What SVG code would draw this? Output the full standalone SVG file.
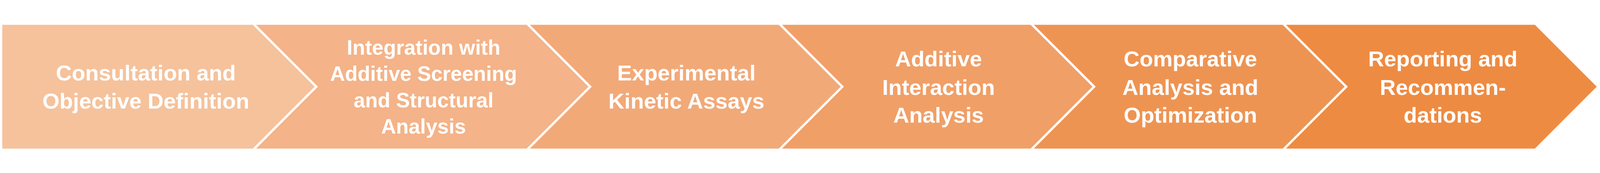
<svg xmlns="http://www.w3.org/2000/svg" width="4937" height="443" viewBox="0 0 4937 443">
<style>
svg{width:100vw;height:100vh}
.t{font-family:"Liberation Sans",Arial,sans-serif;font-weight:bold;fill:#FFFFFF;text-anchor:middle;font-size:68px}
.t2{font-size:63.7px}
</style>
<rect width="4937" height="443" fill="#FFFFFF"/>
<g id="step1">
<polygon points="7,31 780,31 971,222 780,413 7,413" fill="#F5C29C"/>
<text class="t" x="450" y="203">Consultation and</text>
<text class="t" x="450" y="290">Objective Definition</text>
</g>
<g id="step2">
<polygon points="790,31 1625,31 1816,222 1625,413 790,413 981,222" fill="#F4B388"/>
<text class="t t2" x="1307" y="123">Integration with</text>
<text class="t t2" x="1307" y="204">Additive Screening</text>
<text class="t t2" x="1307" y="286">and Structural</text>
<text class="t t2" x="1307" y="367">Analysis</text>
</g>
<g id="step3">
<polygon points="1635,31 2403,31 2594,222 2403,413 1635,413 1826,222" fill="#F2A978"/>
<text class="t" x="2118" y="203">Experimental</text>
<text class="t" x="2118" y="290">Kinetic Assays</text>
</g>
<g id="step4">
<polygon points="2413,31 3180,31 3371,222 3180,413 2413,413 2604,222" fill="#F09F67"/>
<text class="t" x="2896" y="159">Additive</text>
<text class="t" x="2896" y="247">Interaction</text>
<text class="t" x="2896" y="333">Analysis</text>
</g>
<g id="step5">
<polygon points="3190,31 3958,31 4149,222 3958,413 3190,413 3381,222" fill="#EE9453"/>
<text class="t" x="3673" y="159">Comparative</text>
<text class="t" x="3673" y="247">Analysis and</text>
<text class="t" x="3673" y="333">Optimization</text>
</g>
<g id="step6">
<polygon points="3968,31 4736,31 4927,222 4736,413 3968,413 4159,222" fill="#EE8B42"/>
<text class="t" x="4452" y="159">Reporting and</text>
<text class="t" x="4452" y="247">Recommen-</text>
<text class="t" x="4452" y="333">dations</text>
</g>
<g id="connectors"></g>
</svg>
